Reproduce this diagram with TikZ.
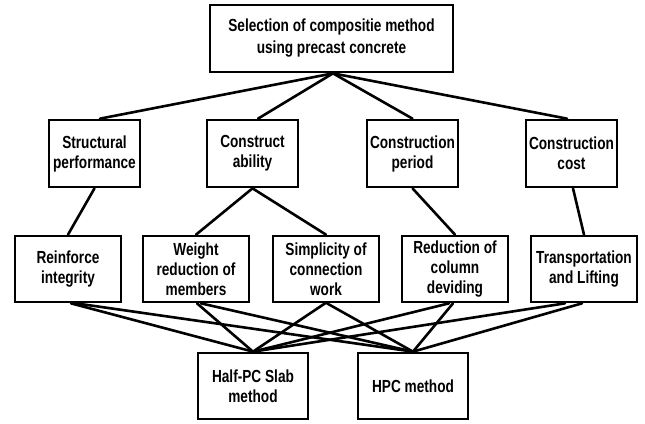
\documentclass[tikz,border=0pt]{standalone}
\usepackage{fontspec}
\setmainfont{Liberation Sans}[FakeStretch=0.78]
\begin{document}
\begin{tikzpicture}[x=1pt,y=-1pt,
  box/.style={draw=black, line width=2.7pt, fill=white, align=center, inner sep=0pt,
    font=\bfseries\fontsize{17.5}{20}\selectfont},
  lvltwo/.style={box, minimum width=91pt, minimum height=67pt},
  lvlthree/.style={box, minimum width=106pt, minimum height=66pt},
  lvlfour/.style={box, minimum width=110pt, minimum height=66pt},
  conn/.style={line width=2.6pt, line cap=round}]
\useasboundingbox[fill=white] (0,0) rectangle (645,423);
% top
\node[box, minimum width=243pt, minimum height=67pt, font=\bfseries\fontsize{17.5}{22}\selectfont] (top) at (331.5,38.5) {Selection of compositie method\\using precast concrete};
% level 2
\node[lvltwo] (sp) at (94.5,153.5) {Structural\\performance};
\node[lvltwo] (ca) at (252.5,153.5) {Construct\\ability};
\node[lvltwo] (cp) at (412.5,153.5) {Construction\\period};
\node[lvltwo] (cc) at (571.5,153.5) {Construction\\cost};
% level 3
\node[lvlthree] (ri) at (68,269) {Reinforce\\integrity};
\node[lvlthree] (wr) at (196,269) {Weight\\reduction of\\members};
\node[lvlthree] (sc) at (326,269) {Simplicity of\\connection\\work};
\node[lvlthree] (rc) at (455,269) {Reduction of\\column\\deviding};
\node[lvlthree] (tl) at (584,269) {Transportation\\and Lifting};
% bottom
\node[lvlfour] (hp) at (253,386) {Half-PC Slab\\method};
\node[lvlfour] (hpc) at (413,386) {HPC method};
% connectors top -> level 2
\draw[conn] ([xshift=1.5pt]top.south) -- ([xshift=5.5pt]sp.north);
\draw[conn] ([xshift=1.5pt]top.south) -- ([xshift=5.5pt]ca.north);
\draw[conn] ([xshift=1.5pt]top.south) -- (cp.north);
\draw[conn] ([xshift=1.5pt]top.south) -- ([xshift=-4.5pt]cc.north);
% level 2 -> level 3
\draw[conn] (sp.south) -- (ri.north);
\draw[conn] (ca.south) -- (wr.north);
\draw[conn] (ca.south) -- (sc.north);
\draw[conn] (cp.south) -- (rc.north);
\draw[conn] ([xshift=1.5pt]cc.south) -- (tl.north);
% level 3 -> bottom
\draw[conn] ([xshift=3pt]ri.south) -- (hp.north);
\draw[conn] ([xshift=8pt]ri.south) -- (hpc.north);
\draw[conn] ([xshift=1pt]wr.south) -- (hp.north);
\draw[conn] ([xshift=5pt]wr.south) -- (hpc.north);
\draw[conn] ([xshift=-1pt]sc.south) -- (hp.north);
\draw[conn] ([xshift=1pt]sc.south) -- (hpc.north);
\draw[conn] ([xshift=-6pt]rc.south) -- (hp.north);
\draw[conn] ([xshift=-2pt]rc.south) -- (hpc.north);
\draw[conn] ([xshift=-19pt]tl.south) -- (hp.north);
\draw[conn] ([xshift=-2pt]tl.south) -- (hpc.north);
\end{tikzpicture}
\end{document}
